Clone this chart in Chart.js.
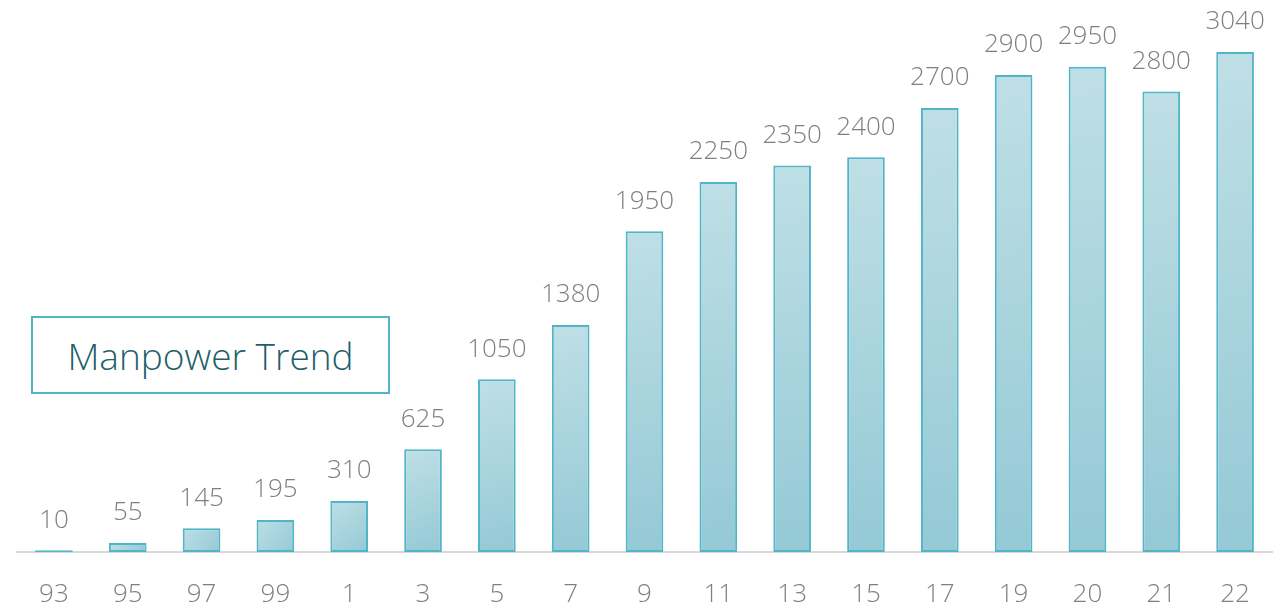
<!DOCTYPE html>
<html><head><meta charset="utf-8">
<script src="https://cdn.jsdelivr.net/npm/chart.js@4"></script>
<style>
html,body{margin:0;padding:0;background:#fff;}
#wrap{position:relative;width:1281px;height:606px;}
#title{position:absolute;left:31px;top:316px;width:355px;height:74px;border:2px solid #4fb5c7;box-sizing:content-box;
font-family:"Open Sans",sans-serif;font-weight:300;font-size:37px;color:#1f5f6b;display:flex;align-items:center;justify-content:center;background:#fff;}
</style></head>
<body><div id="wrap"><canvas id="c" width="1281" height="606"></canvas><div id="title">Manpower Trend</div></div>
<script>
const categories = ["93","95","97","99","1","3","5","7","9","11","13","15","17","19","20","21","22"];
const manpower = [10,55,145,195,310,625,1050,1380,1950,2250,2350,2400,2700,2900,2950,2800,3040];

const labelPlugin = {
  id:'vals',
  afterDatasetsDraw(chart){
    const ctx = chart.ctx, meta = chart.getDatasetMeta(0);
    ctx.save();
    ctx.font = '300 26px "Open Sans", sans-serif';
    ctx.fillStyle = '#7f7f7f';
    ctx.textAlign = 'center';
    ctx.textBaseline = 'middle';
    meta.data.forEach((b,i)=>{ ctx.fillText(String(manpower[i]), b.x, b.y - 30); });
    ctx.restore();
  }
};

function barFill(c){
  const chart = c.chart, area = chart.chartArea;
  if(!area || c.dataIndex === undefined) return '#a9d4de';
  const xs = chart.scales.x, ys = chart.scales.y;
  const x = xs.getPixelForValue(c.dataIndex);
  const top = ys.getPixelForValue(c.raw), bot = ys.getPixelForValue(0);
  const g = chart.ctx.createLinearGradient(x-19, top, x+19, bot);
  g.addColorStop(0, '#bfdfe6');
  g.addColorStop(1, '#94c9d5');
  return g;
}

new Chart(document.getElementById('c'), {
  type:'bar',
  data:{labels:categories, datasets:[{data:manpower, backgroundColor:barFill, borderColor:'#4fb5c7', borderWidth:2, borderSkipped:false, categoryPercentage:1, barPercentage:0.51}]},
  options:{
    responsive:false, animation:false,
    layout:{padding:{left:17,right:9,top:0,bottom:0}},
    plugins:{legend:{display:false},tooltip:{enabled:false}},
    scales:{
      y:{display:false,min:0,max:3356},
      x:{
        grid:{display:false,drawTicks:false},
        border:{display:true,color:'#d9d9d9',width:2},
        ticks:{color:'#7f7f7f',font:{family:'"Open Sans", sans-serif',size:26,weight:'300'},padding:27,maxRotation:0,autoSkip:false},
        afterFit(s){ s.height = 54; }
      }
    }
  },
  plugins:[labelPlugin]
});
</script></body></html>
